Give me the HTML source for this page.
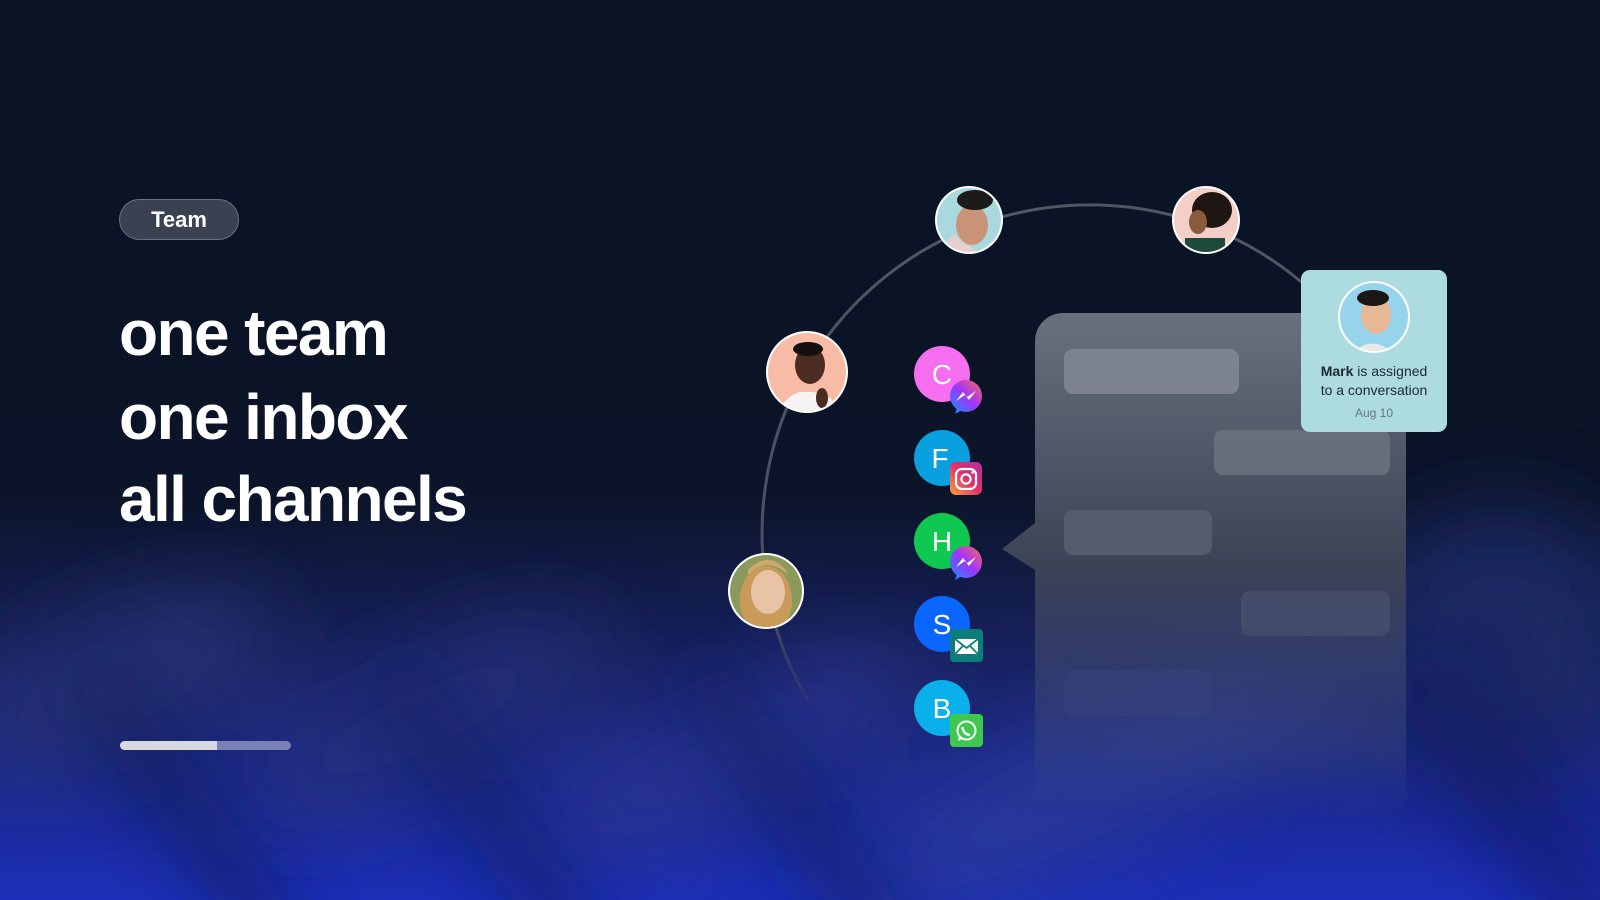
<!DOCTYPE html>
<html><head><meta charset="utf-8">
<style>
html,body{margin:0;padding:0;width:1600px;height:900px;overflow:hidden;}
body{background:#0a1324;position:relative;font-family:"Liberation Sans",sans-serif;}
.bg{position:absolute;left:0;top:0;display:block;}
.pill{position:absolute;left:119px;top:199px;width:120px;height:41px;border-radius:21px;background:#3a4150;border:1px solid #6c6f86;box-sizing:border-box;color:#fff;font-weight:bold;font-size:22px;text-align:center;line-height:40px;}
.h{position:absolute;left:119px;color:#fff;font-weight:bold;font-size:64px;letter-spacing:-1.6px;line-height:1;}
.bar{position:absolute;left:120px;top:741px;width:171px;height:9px;border-radius:5px;background:#7a80b8;overflow:hidden;}
.bar div{width:97px;height:100%;background:#d8d9e0;}
.card{position:absolute;left:1301px;top:270px;width:146px;height:162px;border-radius:9px;background:#acdbe0;text-align:center;color:#222a33;font-size:14px;overflow:hidden;}
.card .l{position:absolute;left:0;right:0;}
</style></head><body>
<svg class="bg" width="1600" height="900" viewBox="0 0 1600 900">
<defs>
<linearGradient id="base" x1="0" y1="0" x2="0" y2="1">
<stop offset="0" stop-color="#0a1324"/><stop offset="0.55" stop-color="#0b1428"/><stop offset="0.75" stop-color="#1a2466"/><stop offset="1" stop-color="#1d2fb8"/>
</linearGradient>
<filter id="bl" x="-50%" y="-50%" width="200%" height="200%"><feGaussianBlur stdDeviation="30"/></filter>
<filter id="bl2" x="-50%" y="-50%" width="200%" height="200%"><feGaussianBlur stdDeviation="45"/></filter>
<linearGradient id="panel" gradientUnits="userSpaceOnUse" x1="0" y1="313" x2="0" y2="820">
<stop offset="0" stop-color="#6a707b"/><stop offset="0.5" stop-color="#3c4356"/><stop offset="0.85" stop-color="#34407e" stop-opacity="0.6"/><stop offset="1" stop-color="#2e3b90" stop-opacity="0"/>
</linearGradient>
<linearGradient id="arcg" gradientUnits="userSpaceOnUse" x1="0" y1="200" x2="0" y2="720">
<stop offset="0" stop-color="#505662"/><stop offset="0.8" stop-color="#4a5060"/><stop offset="1" stop-color="#4a5060" stop-opacity="0"/>
</linearGradient>
<linearGradient id="msg" x1="0" y1="1" x2="1" y2="0"><stop offset="0" stop-color="#1a8cff"/><stop offset="0.5" stop-color="#a033ff"/><stop offset="1" stop-color="#ff6a5a"/></linearGradient>
<linearGradient id="ig" x1="0" y1="1" x2="1" y2="0"><stop offset="0" stop-color="#f9a43a"/><stop offset="0.5" stop-color="#e1306c"/><stop offset="1" stop-color="#b02ea0"/></linearGradient>
<clipPath id="c1"><circle cx="969" cy="220" r="32"/></clipPath>
<clipPath id="c2"><circle cx="1206" cy="220" r="32"/></clipPath>
<clipPath id="c3"><circle cx="807" cy="372" r="39"/></clipPath>
<clipPath id="c4"><circle cx="766" cy="591" r="36"/></clipPath>
</defs>
<rect width="1600" height="900" fill="url(#base)"/>
<g filter="url(#bl2)" opacity="0.9">
<ellipse cx="120" cy="680" rx="160" ry="60" fill="#2a3578" transform="rotate(-25 120 680)"/>
<ellipse cx="420" cy="720" rx="200" ry="55" fill="#27327c" transform="rotate(-25 420 720)"/>
<ellipse cx="720" cy="760" rx="220" ry="55" fill="#2a3590" transform="rotate(-25 720 760)"/>
<ellipse cx="1080" cy="790" rx="260" ry="60" fill="#2c3a98" transform="rotate(-25 1080 790)"/>
<ellipse cx="1500" cy="640" rx="130" ry="130" fill="#1d2a66"/>
</g>
<g filter="url(#bl)" opacity="0.55">
<rect x="150" y="640" width="60" height="340" fill="#101a55" transform="rotate(-35 180 800)"/>
<rect x="450" y="640" width="60" height="340" fill="#101a60" transform="rotate(-35 480 800)"/>
<rect x="760" y="640" width="60" height="340" fill="#101a60" transform="rotate(-35 790 800)"/>
<rect x="1470" y="640" width="80" height="340" fill="#0e1860" transform="rotate(-35 1500 800)"/>
</g>
<path d="M809 702 A328 328 0 0 1 1322 301" fill="none" stroke="url(#arcg)" stroke-width="3"/>
<path d="M1063 313 H1406 V900 H1035 V570 L1002 549 L1035 523 V341 A28 28 0 0 1 1063 313 Z" fill="url(#panel)"/>
<rect x="1064" y="349" width="175" height="45" rx="9" fill="#828893" opacity="0.85"/>
<rect x="1214" y="430" width="176" height="45" rx="9" fill="#6e7480" opacity="0.8"/>
<rect x="1064" y="510" width="148" height="45" rx="9" fill="#5c6272" opacity="0.8"/>
<rect x="1241" y="591" width="149" height="45" rx="9" fill="#4a5270" opacity="0.7"/>
<rect x="1064" y="671" width="148" height="45" rx="9" fill="#3a4480" opacity="0.5"/>
<circle cx="969" cy="220" r="34" fill="#fff"/>
<g clip-path="url(#c1)"><rect x="930" y="180" width="80" height="80" fill="#a9d8de"/><ellipse cx="972" cy="225" rx="16" ry="20" fill="#c99478"/><ellipse cx="975" cy="200" rx="18" ry="10" fill="#1c1a1a"/><path d="M940 260 Q950 225 960 240 L990 260Z" fill="#e8cfcf"/></g>
<circle cx="1206" cy="220" r="34" fill="#fff"/>
<g clip-path="url(#c2)"><rect x="1170" y="185" width="80" height="80" fill="#f4cfc8"/><ellipse cx="1212" cy="210" rx="20" ry="18" fill="#1e1612"/><ellipse cx="1198" cy="222" rx="9" ry="12" fill="#8a5a3e"/><rect x="1185" y="238" width="40" height="20" fill="#1e4a3a"/></g>
<circle cx="807" cy="372" r="41" fill="#fff"/>
<g clip-path="url(#c3)"><rect x="760" y="330" width="95" height="85" fill="#f7bba6"/><ellipse cx="810" cy="365" rx="15" ry="19" fill="#4a2c20"/><ellipse cx="808" cy="349" rx="15" ry="7" fill="#151010"/><path d="M775 415 Q790 390 805 392 Q830 390 845 415Z" fill="#f6f4f2"/><ellipse cx="822" cy="398" rx="6" ry="10" fill="#4a2c20"/></g>
<circle cx="766" cy="591" r="38" fill="#fff"/>
<g clip-path="url(#c4)"><rect x="725" y="550" width="85" height="85" fill="#8b9a5c"/><ellipse cx="766" cy="600" rx="26" ry="34" fill="#c99a5a"/><ellipse cx="768" cy="592" rx="17" ry="22" fill="#e9c3a6"/><path d="M748 575 Q768 555 788 575 L786 570 Q768 550 748 570Z" fill="#d1a86c"/></g>
<circle cx="942" cy="374" r="28" fill="#f56ef0"/>
<circle cx="942" cy="458" r="28" fill="#0aa0e0"/>
<circle cx="942" cy="541" r="28" fill="#10c850"/>
<circle cx="942" cy="624" r="28" fill="#0a66ff"/>
<circle cx="942" cy="708" r="28" fill="#0ab0ea"/>
<g font-family="Liberation Sans,sans-serif" font-size="28" fill="#fff" text-anchor="middle">
<text x="942" y="384">C</text><text x="940" y="468">F</text><text x="942" y="551">H</text><text x="942" y="634">S</text><text x="942" y="718">B</text>
</g>
<g><circle cx="966" cy="396" r="16" fill="url(#msg)"/><path d="M957 408 L955 414 L962 410Z" fill="#3a7bff"/><path d="M956 401 L963 392 L967 397 L976 391 L969 400 L965 395Z" fill="#fff"/></g>
<g><rect x="950" y="462" width="32" height="33" rx="6" fill="url(#ig)"/><rect x="956" y="469" width="20" height="20" rx="6" fill="none" stroke="#fff" stroke-width="2.2"/><circle cx="966" cy="479" r="4.6" fill="none" stroke="#fff" stroke-width="2.2"/><circle cx="972.5" cy="472.5" r="1.3" fill="#fff"/></g>
<g><circle cx="966" cy="562" r="16" fill="url(#msg)"/><path d="M957 574 L955 580 L962 576Z" fill="#3a7bff"/><path d="M956 567 L963 558 L967 563 L976 557 L969 566 L965 561Z" fill="#fff"/></g>
<g><rect x="950" y="629" width="33" height="33" rx="4" fill="#0d7d7c"/><rect x="955" y="639" width="23" height="15" fill="#fff"/><path d="M955 639 L966.5 648 L978 639 M955 654 L963 646 M978 654 L970 646" stroke="#0d7d7c" stroke-width="1.8" fill="none"/></g>
<g><rect x="950" y="714" width="33" height="33" rx="4" fill="#3ec94e"/><circle cx="966.5" cy="730.5" r="9" fill="none" stroke="#fff" stroke-width="2"/><path d="M958 741 L959 735 L962 739Z" fill="#fff"/><path d="M962.5 727 Q963 734 970 735" stroke="#fff" stroke-width="2.4" fill="none"/></g>
</svg>
<div class="pill">Team</div>
<div class="h" style="top:301px">one team</div>
<div class="h" style="top:385px">one inbox</div>
<div class="h" style="top:467px">all channels</div>
<div class="bar"><div></div></div>
<div class="card">
<svg width="146" height="90" style="position:absolute;left:0;top:0;display:block">
<defs><clipPath id="cm"><circle cx="73" cy="47" r="34"/></clipPath></defs>
<circle cx="73" cy="47" r="36" fill="#fff"/>
<g clip-path="url(#cm)"><rect x="30" y="10" width="90" height="80" fill="#95d4ea"/><ellipse cx="75" cy="45" rx="15" ry="19" fill="#e6b896"/><ellipse cx="72" cy="28" rx="16" ry="8" fill="#1a1614"/><path d="M50 85 Q70 62 95 85Z" fill="#e8e8e8"/></g>
</svg>
<div class="l" style="top:93px"><b>Mark</b> is assigned</div>
<div class="l" style="top:112px">to a conversation</div>
<div class="l" style="top:136px;font-size:12px;color:#66787c">Aug 10</div>
</div>
</body></html>
